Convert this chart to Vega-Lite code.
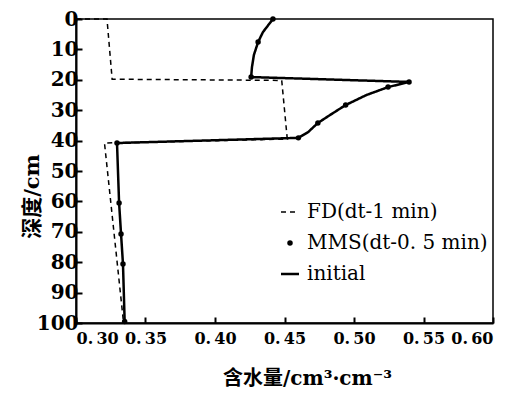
{
  "$schema": "https://vega.github.io/schema/vega-lite/v6.json",
  "width": 417,
  "height": 304,
  "autosize": {"type": "none"},
  "padding": {"left": 76, "top": 19, "right": 37, "bottom": 71},
  "background": "white",
  "config": {
    "view": {"stroke": "black", "strokeWidth": 1.5},
    "axis": {
      "grid": false,
      "domainColor": "black",
      "domainWidth": 2,
      "tickColor": "black",
      "tickWidth": 2,
      "labelColor": "black",
      "titleColor": "black",
      "labelFont": "DejaVu Serif",
      "labelFontWeight": "bold",
      "labelOverlap": false,
      "titleFont": "DejaVu Serif, Noto Sans CJK SC",
      "titleFontWeight": "bold"
    }
  },
  "datasets": {
    "fd": [
      {"i": 1, "theta": 0.300, "depth": 0, "series": "FD(dt-1 min)"},
      {"i": 2, "theta": 0.3223, "depth": 0, "series": "FD(dt-1 min)"},
      {"i": 3, "theta": 0.326, "depth": 19.8, "series": "FD(dt-1 min)"},
      {"i": 4, "theta": 0.448, "depth": 20.2, "series": "FD(dt-1 min)"},
      {"i": 5, "theta": 0.452, "depth": 39.5, "series": "FD(dt-1 min)"},
      {"i": 6, "theta": 0.3205, "depth": 40.8, "series": "FD(dt-1 min)"},
      {"i": 7, "theta": 0.334, "depth": 99, "series": "FD(dt-1 min)"}
    ],
    "initial": [
      {"i": 1, "theta": 0.4417, "depth": 0, "series": "initial"},
      {"i": 2, "theta": 0.4345, "depth": 4.3, "series": "initial"},
      {"i": 3, "theta": 0.431, "depth": 7.6, "series": "initial"},
      {"i": 4, "theta": 0.428, "depth": 11.8, "series": "initial"},
      {"i": 5, "theta": 0.4266, "depth": 15.8, "series": "initial"},
      {"i": 6, "theta": 0.426, "depth": 19.1, "series": "initial"},
      {"i": 7, "theta": 0.5396, "depth": 20.7, "series": "initial"},
      {"i": 8, "theta": 0.5245, "depth": 22.4, "series": "initial"},
      {"i": 9, "theta": 0.509, "depth": 25.0, "series": "initial"},
      {"i": 10, "theta": 0.494, "depth": 28.3, "series": "initial"},
      {"i": 11, "theta": 0.4827, "depth": 31.6, "series": "initial"},
      {"i": 12, "theta": 0.474, "depth": 34.2, "series": "initial"},
      {"i": 13, "theta": 0.467, "depth": 37.2, "series": "initial"},
      {"i": 14, "theta": 0.460, "depth": 39.1, "series": "initial"},
      {"i": 15, "theta": 0.3295, "depth": 40.8, "series": "initial"},
      {"i": 16, "theta": 0.331, "depth": 60.5, "series": "initial"},
      {"i": 17, "theta": 0.3324, "depth": 70.7, "series": "initial"},
      {"i": 18, "theta": 0.3338, "depth": 80.6, "series": "initial"},
      {"i": 19, "theta": 0.335, "depth": 99.5, "series": "initial"}
    ],
    "mms": [
      {"theta": 0.4417, "depth": 0},
      {"theta": 0.431, "depth": 7.6},
      {"theta": 0.426, "depth": 19.1},
      {"theta": 0.5396, "depth": 20.7},
      {"theta": 0.5245, "depth": 22.4},
      {"theta": 0.494, "depth": 28.3},
      {"theta": 0.474, "depth": 34.2},
      {"theta": 0.460, "depth": 39.1},
      {"theta": 0.3295, "depth": 40.8},
      {"theta": 0.331, "depth": 60.5},
      {"theta": 0.3324, "depth": 70.7},
      {"theta": 0.3338, "depth": 80.6},
      {"theta": 0.335, "depth": 99.5}
    ]
  },
  "encoding": {
    "x": {
      "field": "theta",
      "type": "quantitative",
      "scale": {"domain": [0.3, 0.6], "nice": false, "zero": false},
      "axis": {
        "values": [0.3, 0.35, 0.4, 0.45, 0.5, 0.55, 0.6],
        "labelExpr": "replace(format(datum.value, '.2f'), '.', '.\u2009')",
        "labelFontSize": 16,
        "tickSize": -6,
        "labelPadding": 13,
        "title": "含水量/cm³·cm⁻³",
        "titleFontSize": 20,
        "titleX": 231,
        "titleY": 55,
        "titleBaseline": "middle",
        "encode": {
          "labels": {
            "update": {
              "dx": {"signal": "abs(datum.value - 0.3) < 0.001 ? 20 : (abs(datum.value - 0.35) < 0.001 ? 7 : 2)"}
            }
          }
        }
      }
    },
    "y": {
      "field": "depth",
      "type": "quantitative",
      "scale": {"domain": [0, 100], "reverse": true, "nice": false},
      "axis": {
        "values": [0, 10, 20, 30, 40, 50, 60, 70, 80, 90, 100],
        "labelFontSize": 20,
        "tickSize": -6,
        "labelPadding": 4,
        "title": "深度/cm",
        "titleFontSize": 21,
        "titleX": -44,
        "titleY": 177,
        "titleBaseline": "middle",
        "titleAlign": "center",
        "titleAngle": -90
      }
    }
  },
  "layer": [
    {
      "data": {"name": "fd"},
      "mark": {"type": "line", "color": "black", "strokeWidth": 1.5},
      "encoding": {
        "order": {"field": "i", "type": "quantitative"},
        "strokeDash": {
          "field": "series",
          "type": "nominal",
          "scale": {"domain": ["FD(dt-1 min)", "MMS(dt-0. 5 min)", "initial"], "range": [[5, 4], [1, 0], [1, 0]]},
          "legend": {
            "orient": "none",
            "legendX": 204,
            "legendY": 183,
            "title": null,
            "symbolType": "stroke",
            "symbolSize": 324,
            "symbolStrokeColor": "black",
            "labelFont": "DejaVu Serif",
            "labelFontSize": 20,
            "labelColor": "black",
            "labelOffset": 7,
            "rowPadding": 11,
            "labelLimit": 300,
            "encode": {
              "symbols": {
                "update": {
                  "shape": {"signal": "datum.value === 'MMS(dt-0. 5 min)' ? 'circle' : 'stroke'"},
                  "size": {"signal": "datum.value === 'MMS(dt-0. 5 min)' ? 30 : 324"},
                  "fill": {"signal": "datum.value === 'MMS(dt-0. 5 min)' ? 'black' : 'transparent'"},
                  "stroke": {"value": "black"},
                  "strokeWidth": {"signal": "datum.value === 'MMS(dt-0. 5 min)' ? 0 : (datum.value === 'initial' ? 2.5 : 1.5)"}
                }
              }
            }
          }
        }
      }
    },
    {
      "data": {"name": "initial"},
      "mark": {"type": "line", "color": "black", "strokeWidth": 2.5},
      "encoding": {
        "order": {"field": "i", "type": "quantitative"},
        "strokeDash": {"field": "series", "type": "nominal"}
      }
    },
    {
      "data": {"name": "mms"},
      "mark": {"type": "point", "filled": true, "color": "black", "size": 30, "opacity": 1}
    }
  ]
}
